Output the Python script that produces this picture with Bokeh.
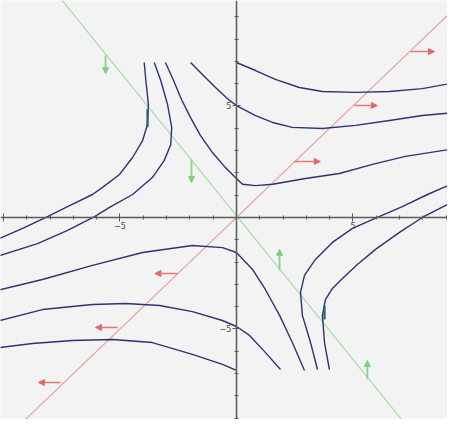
from bokeh.plotting import figure
from bokeh.models import ColumnDataSource, Arrow, NormalHead, FixedTicker, Range1d
from bokeh.embed import file_html
from bokeh.resources import INLINE

# ---- data (data units) ----
# eigen-lines
red_x = [-11.0, 11.0]
red_y = [-11.0, 11.0]
green_x = [-8.0, 7.7]
green_y = [10.4, -9.85]

# trajectories
curve_a_x = [-3.96, -3.89, -3.78, -3.82, -4.03, -4.46, -5.02, -5.75, -6.18, -7.25, -8.11, -9.18, -10.3]
curve_a_y = [6.95, 6.14, 5.07, 4.17, 3.45, 2.69, 1.93, 1.35, 1.03, 0.49, 0.04, -0.49, -1.0]
curve_b_x = [-3.53, -3.25, -2.96, -2.78, -2.82, -3.10, -3.61, -4.46, -5.45, -6.09, -7.25, -8.54, -10.3]
curve_b_y = [6.95, 6.14, 5.07, 4.04, 3.27, 2.56, 1.79, 1.03, 0.45, 0.04, -0.58, -1.17, -1.75]
curve_c_x = [-3.05, -2.70, -2.36, -1.97, -1.55, -1.03, -0.52, 0.0, 0.26, 0.82, 1.55, 2.96, 4.42, 5.84, 7.25, 9.40]
curve_c_y = [6.95, 6.14, 5.29, 4.48, 3.68, 2.91, 2.29, 1.75, 1.49, 1.43, 1.49, 1.75, 1.97, 2.38, 2.74, 3.09]
curve_d_x = [-1.97, -1.46, -0.90, -0.30, 0.0, 0.82, 1.55, 2.40, 3.69, 5.11, 6.57, 7.98, 9.40]
curve_d_y = [6.95, 6.41, 5.83, 5.25, 5.02, 4.57, 4.26, 4.04, 3.99, 4.13, 4.35, 4.57, 4.71]
curve_e_x = [0.0, 0.82, 1.67, 2.70, 3.69, 5.11, 6.57, 7.98, 9.40]
curve_e_y = [6.95, 6.59, 6.19, 5.83, 5.65, 5.61, 5.65, 5.78, 6.05]
curve_f_x = [2.92, 2.40, 1.85, 1.24, 0.69, 0.0, -0.60, -1.89, -4.03, -6.18, -8.33, -10.3]
curve_f_y = [-6.86, -5.61, -4.39, -3.23, -2.33, -1.57, -1.35, -1.26, -1.57, -2.15, -2.78, -3.28]
curve_g_x = [1.89, 1.24, 0.56, 0.0, -0.60, -1.89, -3.30, -4.76, -6.18, -8.33, -10.3]
curve_g_y = [-6.82, -6.05, -5.29, -4.89, -4.62, -4.22, -3.95, -3.86, -3.90, -4.13, -4.66]
curve_h_x = [0.0, -0.60, -1.89, -3.61, -5.32, -7.04, -8.76, -10.3]
curve_h_y = [-6.86, -6.59, -6.14, -5.61, -5.47, -5.52, -5.65, -5.85]
curve_i_x = [3.48, 3.18, 2.83, 2.75, 2.92, 3.39, 4.12, 4.98, 6.05, 7.12, 8.20, 9.40]
curve_i_y = [-6.82, -5.61, -4.39, -3.36, -2.60, -1.88, -1.12, -0.49, 0.0, 0.49, 1.03, 1.57]
curve_j_x = [3.99, 3.78, 3.69, 3.82, 4.12, 4.55, 5.19, 5.97, 7.00, 7.98, 8.71, 9.40]
curve_j_y = [-6.82, -5.61, -4.39, -3.68, -3.18, -2.74, -2.11, -1.43, -0.67, 0.0, 0.40, 0.76]

# direction arrows along eigen-lines
red_arrow_x0 = [2.49, 5.06, 7.47, -2.53, -5.10, -7.55]
red_arrow_y0 = [2.51, 5.02, 7.44, -2.51, -4.93, -7.40]
red_arrow_x1 = [3.60, 6.05, 8.50, -3.50, -6.05, -8.50]
red_arrow_y1 = [2.51, 5.02, 7.44, -2.51, -4.93, -7.40]
green_arrow_x0 = [-5.62, -1.93, 1.85, 5.62]
green_arrow_y0 = [7.26, 2.60, -2.38, -7.26]
green_arrow_x1 = [-5.62, -1.93, 1.85, 5.62]
green_arrow_y1 = [6.45, 1.57, -1.43, -6.41]

# small marks on trajectories
mark_x0 = [-3.82, 3.78]
mark_y0 = [4.85, -4.57]
mark_x1 = [-3.82, 3.78]
mark_y1 = [4.05, -3.95]

# axis ticks
major_ticks = [-10, -5, 5, 10]
minor_ticks = list(range(-10, 11))

# ---- figure ----
p = figure(width=447, height=419, output_backend="svg", toolbar_location=None,
           x_range=Range1d(-10.13, 9.06), y_range=Range1d(-9.06, 9.73),
           min_border=0)
p.background_fill_color = "#f3f3f3"
p.border_fill_color = "#f3f3f3"
p.outline_line_color = None
p.grid.visible = False

# eigen-lines
p.line(red_x, red_y, line_color="#e8a3a3", line_width=1.2)
p.line(green_x, green_y, line_color="#a6dca6", line_width=1.2)

# trajectories
xs = [curve_a_x, curve_b_x, curve_c_x, curve_d_x, curve_e_x,
      curve_f_x, curve_g_x, curve_h_x, curve_i_x, curve_j_x]
ys = [curve_a_y, curve_b_y, curve_c_y, curve_d_y, curve_e_y,
      curve_f_y, curve_g_y, curve_h_y, curve_i_y, curve_j_y]
p.multi_line(xs, ys, line_color="#2b3470", line_width=1.4, line_join="round")

p.segment(mark_x0, mark_y0, mark_x1, mark_y1, line_color="#2a6470", line_width=2.2)

# arrows
red_src = ColumnDataSource(dict(x0=red_arrow_x0, y0=red_arrow_y0, x1=red_arrow_x1, y1=red_arrow_y1))
p.add_layout(Arrow(end=NormalHead(size=6, fill_color="#e06a6a", line_color="#e06a6a"),
                   x_start="x0", y_start="y0", x_end="x1", y_end="y1",
                   line_color="#e07a7a", line_width=1.5, source=red_src))
green_src = ColumnDataSource(dict(x0=green_arrow_x0, y0=green_arrow_y0, x1=green_arrow_x1, y1=green_arrow_y1))
p.add_layout(Arrow(end=NormalHead(size=6, fill_color="#7ccf7c", line_color="#7ccf7c"),
                   x_start="x0", y_start="y0", x_end="x1", y_end="y1",
                   line_color="#8ad48a", line_width=1.8, source=green_src))

# axes through the origin
for ax in (p.xaxis, p.yaxis):
    ax.fixed_location = 0
    ax.ticker = FixedTicker(ticks=major_ticks, minor_ticks=minor_ticks)
    ax.major_label_overrides = {-10: "", 10: ""}
    ax.axis_line_color = "#5a5a5a"
    ax.axis_line_width = 1.5
    ax.major_tick_line_color = "#5a5a5a"
    ax.minor_tick_line_color = "#5a5a5a"
    ax.major_tick_in = 4
    ax.major_tick_out = 4
    ax.minor_tick_in = 2
    ax.minor_tick_out = 2
    ax.major_label_text_font = "DejaVu Sans"
    ax.major_label_text_font_size = "8px"
    ax.major_label_text_color = "#444444"
    ax.major_label_standoff = 1

html = file_html(p, INLINE)
html = html.replace("<body>", '<body style="background:#ebebeb;">', 1)
open("out.html", "w").write(html)
